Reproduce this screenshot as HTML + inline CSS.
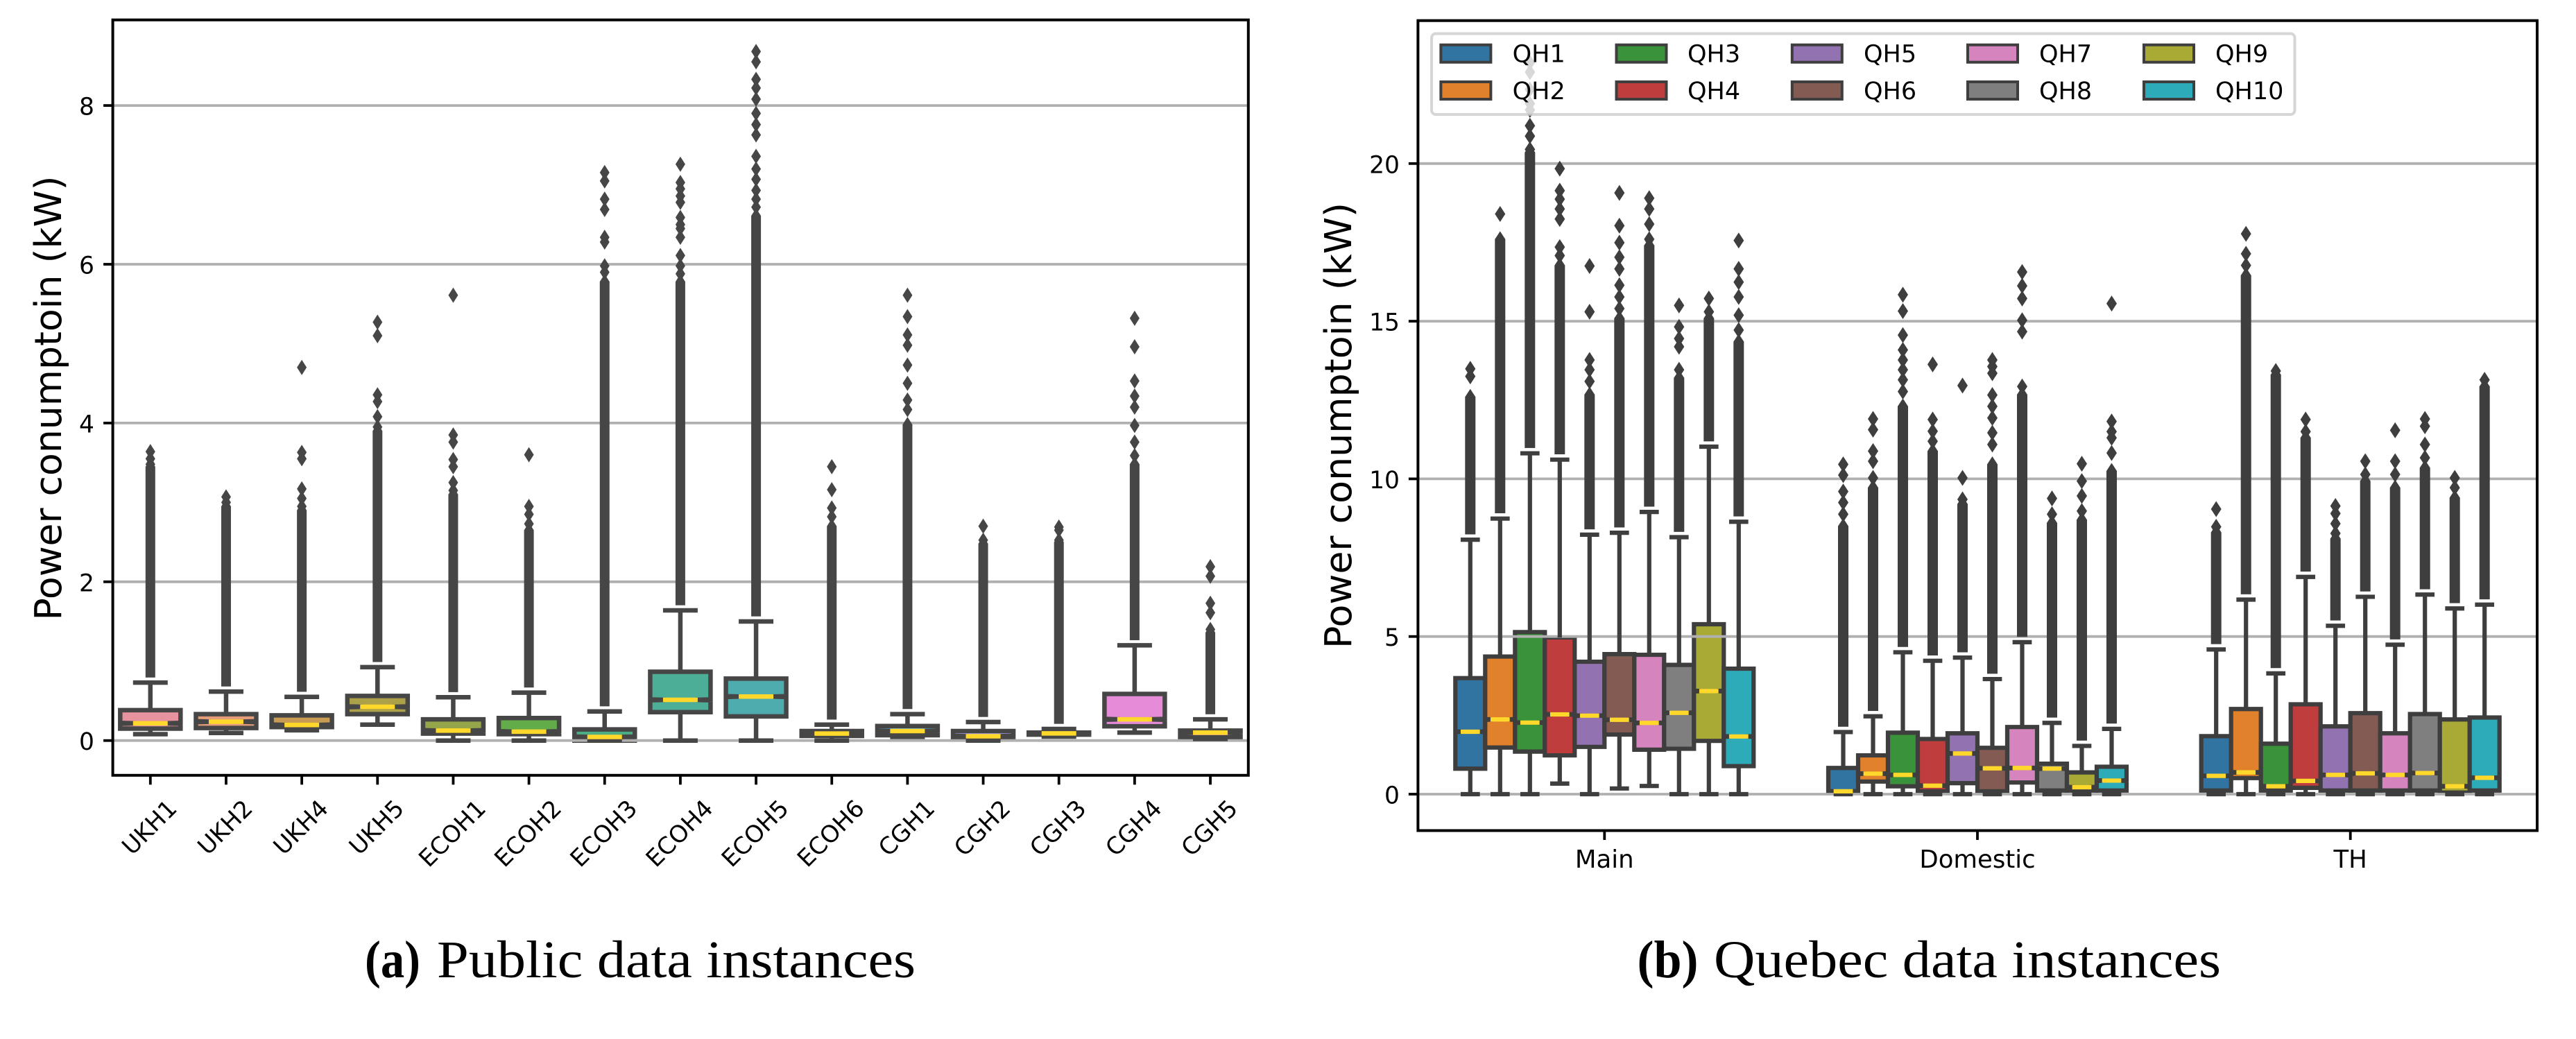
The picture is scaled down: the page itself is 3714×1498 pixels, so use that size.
<!DOCTYPE html>
<html lang="en">
<head>
<meta charset="utf-8">
<title>Power consumption box plots</title>
<style>
html,body{margin:0;padding:0;background:#fff;}
svg{display:block;}
text{font-family:"DejaVu Sans",sans-serif;fill:#000;}
text.cap{font-family:"Liberation Serif",serif;}
</style>
</head>
<body>
<svg id="fig" xmlns="http://www.w3.org/2000/svg" width="3714" height="1498" viewBox="0 0 3714 1498">
  <rect x="0" y="0" width="3714" height="1498" fill="#fff"/>
  <g id="chartA"></g>
  <g id="chartB"></g>
  <text class="cap" x="526" y="1409" font-size="76" font-weight="bold" textLength="80" lengthAdjust="spacingAndGlyphs">(a)</text>
  <text class="cap" x="630" y="1409" font-size="76" textLength="690" lengthAdjust="spacingAndGlyphs">Public data instances</text>
  <text class="cap" x="2360.5" y="1409" font-size="76" font-weight="bold" textLength="88" lengthAdjust="spacingAndGlyphs">(b)</text>
  <text class="cap" x="2471" y="1409" font-size="76" textLength="731" lengthAdjust="spacingAndGlyphs">Quebec data instances</text>
</svg>
<script>
/* ---------- Public data (a) ---------- */
const publicCategories = ['UKH1','UKH2','UKH4','UKH5','ECOH1','ECOH2','ECOH3','ECOH4','ECOH5','ECOH6','CGH1','CGH2','CGH3','CGH4','CGH5'];
const publicColors = ['#E6929F','#E59C78','#C89C52','#ACA148','#95A64A','#62AD49','#4CAC83','#4DAE98','#4FACAE','#50AAC0','#5BA8D8','#A5A3E8','#C79AE6','#E58BD8','#E890BE'];
const publicWhiskerLow  = [0.08,0.096,0.13,0.2,0,0,0,0,0,0,0.046,0,0.05,0.1,0.02];
const publicQ1          = [0.15,0.158,0.17,0.333,0.0875,0.08,0,0.358,0.304,0.058,0.067,0.04,0.075,0.18,0.04];
const publicMedian      = [0.217,0.2375,0.196,0.425,0.125,0.1125,0.045,0.5125,0.554,0.0875,0.12,0.054,0.09,0.267,0.1];
const publicQ3          = [0.383,0.333,0.317,0.5625,0.267,0.283,0.14,0.867,0.78,0.12,0.183,0.12,0.1,0.5875,0.125];
const publicWhiskerHigh = [0.73,0.617,0.55,0.925,0.546,0.604,0.367,1.64,1.5,0.2,0.333,0.233,0.146,1.2,0.267];
const publicFlierColumnTop = [3.45,2.95,2.9,3.9,3.1,2.65,5.78,5.78,6.61,2.7,3.98,2.48,2.5,3.48,1.36];
const publicFliers = [
  [3.64,3.55,3.48],
  [3.07,3.0],
  [4.7,3.63,3.55,3.17,3.05,2.95],
  [5.27,5.1,4.355,4.27,4.08,3.95],
  [5.61,3.85,3.76,3.54,3.45,3.25,3.15],
  [3.6,2.95,2.85,2.73],
  [7.155,7.05,6.82,6.69,6.34,6.28,5.98,5.9],
  [7.26,7.03,6.95,6.86,6.78,6.59,6.5,6.45,6.34,6.11,5.98,5.88],
  [8.68,8.55,8.33,8.22,8.08,7.9,7.76,7.63,7.36,7.2,7.07,6.93,6.82,6.72],
  [3.45,3.16,2.93,2.82],
  [5.61,5.34,5.11,4.98,4.73,4.5,4.29,4.17,3.98],
  [2.7,2.525],
  [2.69,2.65,2.525],
  [5.32,4.96,4.53,4.34,4.2,3.97,3.76,3.59],
  [2.19,2.07,1.73,1.61,1.4]
];
const publicYTicks = [0,2,4,6,8];

/* ---------- Quebec data (b) ---------- */
const quebecCategories = ['Main','Domestic','TH'];
const quebecSeries = ['QH1','QH2','QH3','QH4','QH5','QH6','QH7','QH8','QH9','QH10'];
const quebecColors = ['#3274A1','#E1812C','#3A923A','#C03D3E','#9372B2','#845B53','#D684BD','#7F7F7F','#A9AA35','#2EABB8'];
const quebecWhiskerLow = [
  [0,0,0,0.336,0,0.18,0.26,0,0,0],
  [0,0,0,0,0,0,0,0,0,0],
  [0,0,0,0,0,0,0,0,0,0]
];
const quebecQ1 = [
  [0.808,1.48,1.35,1.23,1.5,1.89,1.41,1.44,1.69,0.89],
  [0.08,0.4,0.25,0.09,0.35,0.09,0.37,0.115,0.115,0.115],
  [0.115,0.51,0.115,0.2,0.115,0.115,0.115,0.115,0.05,0.115]
];
const quebecMedian = [
  [1.98,2.37,2.27,2.53,2.49,2.36,2.26,2.58,3.27,1.83],
  [0.09,0.65,0.61,0.27,1.29,0.82,0.83,0.81,0.22,0.43],
  [0.58,0.69,0.25,0.42,0.61,0.66,0.61,0.67,0.25,0.52]
];
const quebecQ3 = [
  [3.68,4.365,5.14,4.97,4.2,4.44,4.42,4.1,5.39,3.98],
  [0.83,1.23,1.95,1.75,1.93,1.47,2.13,0.965,0.69,0.87],
  [1.84,2.7,1.6,2.85,2.15,2.57,1.93,2.54,2.37,2.43]
];
const quebecWhiskerHigh = [
  [8.07,8.74,10.81,10.61,8.23,8.29,8.95,8.15,11.02,8.64],
  [1.97,2.47,4.5,4.23,4.33,3.65,4.82,2.26,1.53,2.07],
  [4.59,6.17,3.83,6.89,5.34,6.26,4.74,6.33,5.89,6.01]
];
const quebecFlierColumnTop = [
  [12.6,17.6,20.35,16.77,12.67,15.09,17.4,13.2,15.09,14.35],
  [8.5,9.72,12.3,10.88,9.2,10.46,12.67,8.6,8.7,10.25],
  [8.3,16.45,13.3,11.3,8.1,9.93,9.72,10.35,9.4,12.93]
];
const quebecFliers = [
  [
    [13.49,13.25],
    [18.4],
    [23.2,22.9,22.35,21.9,21.7,21.2,20.87,20.45],
    [19.84,19.14,18.87,18.56,18.24,17.35,17.08],
    [16.75,15.3,13.77,13.46,13.09],
    [19.07,18.03,17.49,17.03,16.66,16.14,15.77,15.4],
    [18.9,18.56,18.08,17.6],
    [15.5,14.82,14.45,14.19,13.46],
    [15.72,15.3],
    [17.56,16.66,16.24,15.77,15.19,14.72]
  ],
  [
    [10.46,10.12,9.6,9.25,8.88],
    [11.9,11.56,10.88,10.56,10.03],
    [15.84,15.32,14.56,14.09,13.77,13.46,13.14,12.77],
    [13.63,11.88,11.51,11.19],
    [12.96,10.03,9.35],
    [13.77,13.56,13.35,12.66,12.3,11.93,11.46,11.09],
    [16.56,16.12,15.72,15.03,14.67,12.93],
    [9.38,8.88],
    [10.48,9.93,9.46,8.98],
    [15.56,11.82,11.5,11.3,10.82]
  ],
  [
    [9.04,8.48],
    [17.77,17.14,16.77],
    [13.42],
    [11.88,11.5],
    [9.14,8.9,8.58,8.27],
    [10.56,10.14],
    [11.54,10.56,10.14],
    [11.9,11.67,11.09,10.67],
    [10.03,9.72],
    [13.14]
  ]
];
const quebecYTicks = [0,5,10,15,20];

/* ---------- Axis functions ---------- */
const frameA = {left:162.6, right:1799.8, top:28.7, bottom:1117.8};
const frameB = {left:2044.4, right:3658, top:29.7, bottom:1197.5};
function xA(i){ return 216.8 + 109.16*i; }
function yA(v){ return 1067.7 - 114.45*v; }
function xB(c){ return 2313.3 + 537.7*c; }
function xBHue(c,j){ return xB(c) + (j-4.5)*43; }
function yB(v){ return 1145 - 45.46*v; }

const NS = 'http://www.w3.org/2000/svg';
function mk(parent, tag, attrs, txt){
  const el = document.createElementNS(NS, tag);
  for (const k in attrs) el.setAttribute(k, attrs[k]);
  if (txt !== undefined) el.textContent = txt;
  parent.appendChild(el);
  return el;
}
function slug(s){ return s.toLowerCase(); }

function boxPath(cx,w,yq1,ym,yq3){
  const d = 0.6;
  const L = cx-w/2, R = cx+w/2, nL = cx-w/4, nR = cx+w/4;
  return 'M'+L+' '+yq1+'L'+R+' '+yq1+'L'+R+' '+(ym+d)+'L'+nR+' '+ym+'L'+R+' '+(ym-d)+'L'+R+' '+yq3+
         'L'+L+' '+yq3+'L'+L+' '+(ym-d)+'L'+nL+' '+ym+'L'+L+' '+(ym+d)+'Z';
}
function drawBox(layer, name, cx, w, y, c, st, dw, dh, color, vals){
  const lay = layer;
  const box = mk(lay.box,'path',{d:boxPath(cx,w,y(vals.q1),y(vals.med),y(vals.q3)),fill:color,stroke:c,'stroke-width':st,'stroke-miterlimit':4});
  
  
  const capW = w/2+st;
  const whHi = mk(lay.line,'line',{x1:cx,x2:cx,y1:y(vals.q3),y2:y(vals.hi),stroke:c,'stroke-width':st});
  
  
  const whLo = mk(lay.line,'line',{x1:cx,x2:cx,y1:y(vals.q1),y2:y(vals.lo),stroke:c,'stroke-width':st});
  
  
  const capHi = mk(lay.line,'line',{x1:cx-capW/2,x2:cx+capW/2,y1:y(vals.hi),y2:y(vals.hi),stroke:c,'stroke-width':st});
  
  
  const capLo = mk(lay.line,'line',{x1:cx-capW/2,x2:cx+capW/2,y1:y(vals.lo),y2:y(vals.lo),stroke:c,'stroke-width':st});
  
  
  const colEl = mk(lay.line,'rect',{x:cx-dw/2,y:y(vals.colTop),width:dw,height:Math.max(0,y(vals.hi)-y(vals.colTop)-dh/3),fill:c});
  
  
  const pts = vals.fliers.concat([vals.colTop]);
  pts.forEach(function(v){
    const yy = y(v);
    const p = mk(lay.line,'path',{d:'M'+cx+' '+(yy-dh/2)+'L'+(cx+dw/2)+' '+yy+'L'+cx+' '+(yy+dh/2)+'L'+(cx-dw/2)+' '+yy+'Z',fill:c});
    
    
  });
  const med = mk(lay.top,'line',{x1:cx-capW/2,x2:cx+capW/2,y1:y(vals.med),y2:y(vals.med),stroke:'#FFD82B','stroke-width':st});
  
  
}
function layers(root){
  return {box:mk(root,'g',{}), grid:mk(root,'g',{}), line:mk(root,'g',{}), top:mk(root,'g',{}), axis:mk(root,'g',{})};
}
function drawFrame(lay, f){
  const r = mk(lay.axis,'rect',{x:f.left,y:f.top,width:f.right-f.left,height:f.bottom-f.top,fill:'none',stroke:'#000','stroke-width':4});
  
  
}
function drawYAxis(lay, f, y, ticks, labelX, title, titleX){
  ticks.forEach(function(t){
    const g = mk(lay.grid,'line',{x1:f.left,x2:f.right,y1:y(t),y2:y(t),stroke:'#b0b0b0','stroke-width':3.8});
    
    
    const tk = mk(lay.axis,'line',{x1:f.left-13.5,x2:f.left,y1:y(t),y2:y(t),stroke:'#000','stroke-width':3.8});
    
    
    const lb = mk(lay.axis,'text',{x:labelX,y:y(t)+13.5,'text-anchor':'end','font-size':34.5},String(t));
    
    
  });
  const cy = title.cy;
  const tt = mk(lay.axis,'text',{x:titleX,y:cy,'text-anchor':'middle','font-size':53.4,textLength:title.len,lengthAdjust:'spacingAndGlyphs',transform:'rotate(-90 '+titleX+' '+cy+')'},title.text);
  
  
}

/* ---------- Chart A ---------- */
(function(){
  const lay = layers(document.getElementById('chartA'));
  publicCategories.forEach(function(cat,i){
    drawBox(lay, slug(cat), xA(i), 87, yA, '#464646', 6.5, 14, 22, publicColors[i], {
      lo:publicWhiskerLow[i], q1:publicQ1[i], med:publicMedian[i], q3:publicQ3[i], hi:publicWhiskerHigh[i],
      colTop:publicFlierColumnTop[i], fliers:publicFliers[i]
    });
    const tk = mk(lay.axis,'line',{x1:xA(i),x2:xA(i),y1:frameA.bottom,y2:frameA.bottom+13.5,stroke:'#000','stroke-width':3.8});
    
    
    const lb = mk(lay.axis,'text',{x:xA(i)-2,y:1190,'text-anchor':'middle','font-size':34},cat);
    
    
    const len = lb.getComputedTextLength();
    const cy = 1150 + (len+25)*0.7071/2;
    lb.setAttribute('y', cy+12.5);
    lb.setAttribute('transform','rotate(-45 '+(xA(i)-2)+' '+cy+')');
  });
  drawYAxis(lay, frameA, yA, publicYTicks, 136, {text:'Power conumptoin (kW)', cy:574, len:641}, 88);
  drawFrame(lay, frameA);
})();

/* ---------- Chart B ---------- */
(function(){
  const lay = layers(document.getElementById('chartB'));
  quebecCategories.forEach(function(cat,c){
    quebecSeries.forEach(function(s,j){
      drawBox(lay, slug(cat)+'-'+slug(s), xBHue(c,j), 43, yB, '#3e3e3e', 6.2, 15, 23, quebecColors[j], {
        lo:quebecWhiskerLow[c][j], q1:quebecQ1[c][j], med:quebecMedian[c][j], q3:quebecQ3[c][j], hi:quebecWhiskerHigh[c][j],
        colTop:quebecFlierColumnTop[c][j], fliers:quebecFliers[c][j]
      });
    });
    const tk = mk(lay.axis,'line',{x1:xB(c),x2:xB(c),y1:frameB.bottom,y2:frameB.bottom+13.5,stroke:'#000','stroke-width':3.8});
    
    
    const lb = mk(lay.axis,'text',{x:xB(c),y:1251,'text-anchor':'middle','font-size':35.5},cat);
    
    
  });
  drawYAxis(lay, frameB, yB, quebecYTicks, 2018, {text:'Power conumptoin (kW)', cy:613.5, len:643}, 1948);
  drawFrame(lay, frameB);

  /* legend */
  const leg = mk(lay.axis,'g',{});
  
  
  const bg = mk(leg,'rect',{x:2064,y:48.5,width:1244.5,height:116.5,rx:6,ry:6,fill:'rgba(255,255,255,0.8)',stroke:'rgba(204,204,204,0.8)','stroke-width':4});
  
  
  const colPatchX = [2077.4,2330.5,2583.8,2837,3091];
  const colTextX = [2180.6,2433,2687,2940,3194];
  const rowY = [77.2,130.5];
  quebecSeries.forEach(function(s,j){
    const col = Math.floor(j/2), row = j%2;
    const p = mk(leg,'rect',{x:colPatchX[col],y:rowY[row]-12.5,width:72,height:25,fill:quebecColors[j],stroke:'#3e3e3e','stroke-width':4});
    
    
    const t = mk(leg,'text',{x:colTextX[col],y:rowY[row]+12.5,'font-size':35},s);
    
    
  });
})();
</script>
</body>
</html>
